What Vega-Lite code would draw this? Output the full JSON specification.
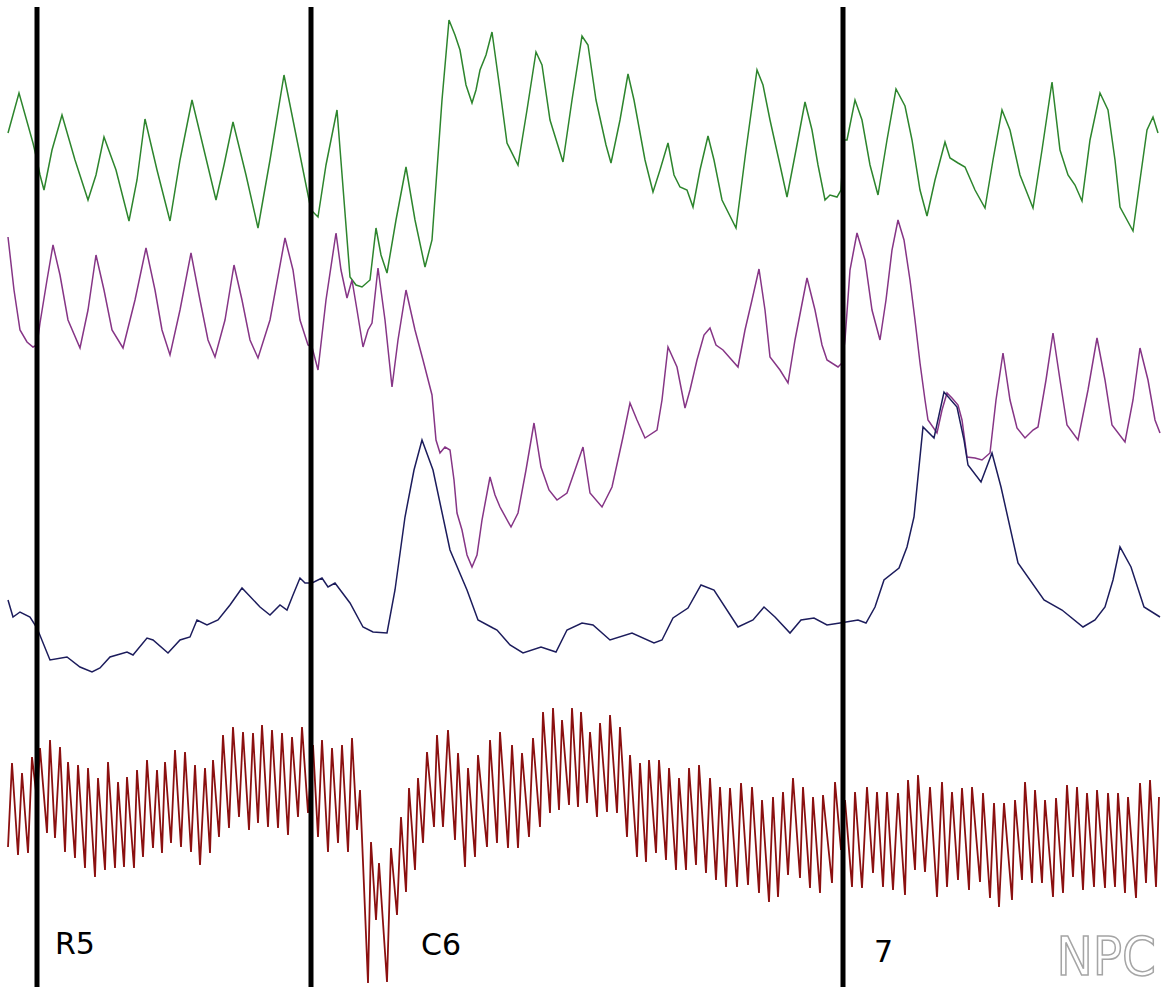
{
"$schema": "https://vega.github.io/schema/vega-lite/v6.json",
"width": 1161, "height": 987,
"autosize": "none",
"padding": 0,
"background": "white",
"config": {"view": {"stroke": null}},
"datasets": {
"green": [
{"t":8,"v":133},{"t":19,"v":93},{"t":33,"v":143},{"t":37,"v":160},{"t":40,"v":175},{"t":44,"v":190},{"t":52,"v":150},{"t":62,"v":115},{"t":75,"v":160},{"t":88,"v":200},{"t":96,"v":175},{"t":104,"v":137},{"t":116,"v":170},{"t":129,"v":221},{"t":137,"v":180},{"t":145,"v":119},{"t":157,"v":170},{"t":170,"v":221},{"t":180,"v":160},{"t":192,"v":100},{"t":204,"v":150},{"t":216,"v":200},{"t":224,"v":165},{"t":233,"v":122},{"t":246,"v":175},{"t":258,"v":228},{"t":270,"v":160},{"t":284,"v":75},{"t":297,"v":140},{"t":311,"v":210},{"t":318,"v":217},{"t":326,"v":165},{"t":337,"v":110},{"t":344,"v":200},{"t":350,"v":277},{"t":356,"v":285},{"t":362,"v":287},{"t":370,"v":280},{"t":376,"v":228},{"t":381,"v":255},{"t":387,"v":273},{"t":396,"v":220},{"t":406,"v":167},{"t":415,"v":220},{"t":425,"v":267},{"t":432,"v":240},{"t":437,"v":170},{"t":442,"v":100},{"t":449,"v":20},{"t":455,"v":35},{"t":460,"v":50},{"t":466,"v":85},{"t":472,"v":103},{"t":476,"v":90},{"t":480,"v":70},{"t":486,"v":55},{"t":492,"v":32},{"t":500,"v":90},{"t":507,"v":143},{"t":518,"v":165},{"t":527,"v":110},{"t":536,"v":52},{"t":542,"v":65},{"t":550,"v":120},{"t":563,"v":162},{"t":572,"v":100},{"t":582,"v":36},{"t":588,"v":45},{"t":596,"v":100},{"t":606,"v":145},{"t":611,"v":163},{"t":620,"v":120},{"t":628,"v":74},{"t":634,"v":100},{"t":645,"v":160},{"t":653,"v":192},{"t":660,"v":170},{"t":668,"v":143},{"t":674,"v":175},{"t":680,"v":187},{"t":687,"v":190},{"t":693,"v":207},{"t":700,"v":170},{"t":708,"v":136},{"t":714,"v":160},{"t":722,"v":200},{"t":736,"v":228},{"t":746,"v":150},{"t":757,"v":70},{"t":763,"v":85},{"t":770,"v":120},{"t":780,"v":165},{"t":787,"v":197},{"t":796,"v":150},{"t":805,"v":102},{"t":812,"v":130},{"t":818,"v":165},{"t":825,"v":200},{"t":830,"v":195},{"t":837,"v":197},{"t":841,"v":190},{"t":844,"v":140},{"t":847,"v":140},{"t":855,"v":100},{"t":862,"v":120},{"t":870,"v":165},{"t":878,"v":195},{"t":887,"v":140},{"t":896,"v":89},{"t":905,"v":106},{"t":912,"v":140},{"t":920,"v":190},{"t":927,"v":216},{"t":935,"v":180},{"t":945,"v":142},{"t":950,"v":158},{"t":958,"v":163},{"t":965,"v":167},{"t":975,"v":190},{"t":985,"v":208},{"t":993,"v":160},{"t":1002,"v":110},{"t":1010,"v":130},{"t":1020,"v":175},{"t":1033,"v":208},{"t":1042,"v":150},{"t":1052,"v":82},{"t":1060,"v":150},{"t":1068,"v":175},{"t":1075,"v":185},{"t":1082,"v":201},{"t":1090,"v":140},{"t":1100,"v":93},{"t":1108,"v":110},{"t":1115,"v":160},{"t":1120,"v":207},{"t":1133,"v":231},{"t":1140,"v":180},{"t":1147,"v":130},{"t":1153,"v":117},{"t":1158,"v":133}
],
"purple": [
{"t":8,"v":237},{"t":14,"v":290},{"t":20,"v":330},{"t":27,"v":342},{"t":33,"v":347},{"t":37,"v":345},{"t":40,"v":323},{"t":47,"v":280},{"t":53,"v":245},{"t":60,"v":275},{"t":68,"v":320},{"t":80,"v":348},{"t":88,"v":310},{"t":96,"v":255},{"t":104,"v":290},{"t":112,"v":330},{"t":123,"v":348},{"t":135,"v":300},{"t":146,"v":248},{"t":155,"v":290},{"t":162,"v":330},{"t":170,"v":355},{"t":180,"v":310},{"t":191,"v":253},{"t":200,"v":300},{"t":208,"v":340},{"t":215,"v":357},{"t":225,"v":320},{"t":234,"v":265},{"t":242,"v":300},{"t":250,"v":340},{"t":258,"v":358},{"t":270,"v":320},{"t":285,"v":238},{"t":293,"v":270},{"t":300,"v":320},{"t":308,"v":345},{"t":312,"v":347},{"t":318,"v":370},{"t":326,"v":300},{"t":336,"v":233},{"t":341,"v":270},{"t":347,"v":298},{"t":352,"v":280},{"t":357,"v":310},{"t":363,"v":347},{"t":368,"v":330},{"t":372,"v":323},{"t":378,"v":268},{"t":385,"v":320},{"t":392,"v":387},{"t":398,"v":340},{"t":406,"v":290},{"t":415,"v":330},{"t":423,"v":360},{"t":432,"v":395},{"t":436,"v":440},{"t":440,"v":453},{"t":445,"v":447},{"t":450,"v":450},{"t":454,"v":480},{"t":457,"v":513},{"t":462,"v":530},{"t":467,"v":555},{"t":472,"v":567},{"t":477,"v":555},{"t":482,"v":520},{"t":490,"v":477},{"t":495,"v":495},{"t":500,"v":507},{"t":511,"v":527},{"t":518,"v":513},{"t":526,"v":470},{"t":534,"v":423},{"t":541,"v":467},{"t":549,"v":490},{"t":557,"v":500},{"t":567,"v":493},{"t":575,"v":470},{"t":583,"v":447},{"t":590,"v":493},{"t":602,"v":507},{"t":612,"v":487},{"t":623,"v":437},{"t":630,"v":403},{"t":637,"v":420},{"t":645,"v":438},{"t":657,"v":430},{"t":662,"v":400},{"t":668,"v":347},{"t":677,"v":367},{"t":685,"v":408},{"t":690,"v":390},{"t":697,"v":360},{"t":704,"v":335},{"t":710,"v":328},{"t":716,"v":345},{"t":723,"v":350},{"t":730,"v":358},{"t":738,"v":367},{"t":745,"v":330},{"t":752,"v":300},{"t":759,"v":269},{"t":765,"v":310},{"t":770,"v":357},{"t":780,"v":370},{"t":788,"v":383},{"t":795,"v":340},{"t":807,"v":278},{"t":815,"v":310},{"t":822,"v":345},{"t":827,"v":360},{"t":838,"v":367},{"t":842,"v":363},{"t":845,"v":340},{"t":850,"v":270},{"t":857,"v":233},{"t":865,"v":260},{"t":872,"v":310},{"t":880,"v":340},{"t":886,"v":300},{"t":892,"v":250},{"t":898,"v":220},{"t":904,"v":240},{"t":910,"v":280},{"t":915,"v":320},{"t":920,"v":363},{"t":925,"v":400},{"t":928,"v":420},{"t":937,"v":433},{"t":942,"v":410},{"t":947,"v":393},{"t":952,"v":398},{"t":958,"v":405},{"t":962,"v":420},{"t":967,"v":457},{"t":975,"v":458},{"t":982,"v":460},{"t":990,"v":453},{"t":996,"v":400},{"t":1003,"v":353},{"t":1010,"v":400},{"t":1017,"v":428},{"t":1025,"v":438},{"t":1033,"v":430},{"t":1038,"v":427},{"t":1046,"v":380},{"t":1053,"v":333},{"t":1060,"v":380},{"t":1067,"v":425},{"t":1078,"v":440},{"t":1088,"v":390},{"t":1097,"v":338},{"t":1105,"v":380},{"t":1112,"v":425},{"t":1125,"v":442},{"t":1133,"v":400},{"t":1140,"v":348},{"t":1148,"v":380},{"t":1155,"v":420},{"t":1160,"v":433}
],
"navy": [
{"t":8,"v":600},{"t":13,"v":617},{"t":20,"v":612},{"t":30,"v":617},{"t":37,"v":628},{"t":50,"v":660},{"t":67,"v":657},{"t":80,"v":667},{"t":92,"v":672},{"t":100,"v":668},{"t":110,"v":657},{"t":127,"v":652},{"t":133,"v":655},{"t":147,"v":638},{"t":153,"v":640},{"t":168,"v":653},{"t":180,"v":640},{"t":190,"v":637},{"t":197,"v":620},{"t":207,"v":625},{"t":218,"v":620},{"t":230,"v":605},{"t":242,"v":588},{"t":260,"v":607},{"t":270,"v":615},{"t":280,"v":605},{"t":287,"v":610},{"t":293,"v":595},{"t":300,"v":578},{"t":305,"v":583},{"t":312,"v":583},{"t":322,"v":578},{"t":328,"v":587},{"t":335,"v":583},{"t":350,"v":603},{"t":363,"v":627},{"t":373,"v":632},{"t":387,"v":633},{"t":395,"v":590},{"t":405,"v":517},{"t":414,"v":470},{"t":422,"v":440},{"t":433,"v":470},{"t":450,"v":550},{"t":467,"v":590},{"t":478,"v":620},{"t":493,"v":628},{"t":497,"v":630},{"t":510,"v":645},{"t":523,"v":653},{"t":541,"v":647},{"t":556,"v":652},{"t":567,"v":630},{"t":582,"v":623},{"t":593,"v":625},{"t":610,"v":640},{"t":632,"v":633},{"t":654,"v":643},{"t":662,"v":640},{"t":673,"v":618},{"t":688,"v":608},{"t":701,"v":585},{"t":714,"v":590},{"t":738,"v":627},{"t":753,"v":620},{"t":764,"v":607},{"t":775,"v":617},{"t":790,"v":633},{"t":801,"v":620},{"t":814,"v":618},{"t":827,"v":625},{"t":840,"v":623},{"t":858,"v":620},{"t":866,"v":623},{"t":875,"v":607},{"t":884,"v":580},{"t":899,"v":568},{"t":907,"v":547},{"t":914,"v":517},{"t":923,"v":427},{"t":934,"v":438},{"t":944,"v":392},{"t":957,"v":407},{"t":964,"v":440},{"t":968,"v":465},{"t":981,"v":482},{"t":992,"v":453},{"t":1001,"v":487},{"t":1018,"v":563},{"t":1044,"v":600},{"t":1062,"v":610},{"t":1083,"v":627},{"t":1095,"v":620},{"t":1105,"v":607},{"t":1113,"v":580},{"t":1120,"v":547},{"t":1131,"v":567},{"t":1144,"v":607},{"t":1160,"v":617}
],
"red": [
{"t":8,"v":847},{"t":12,"v":763},{"t":18,"v":855},{"t":22,"v":773},{"t":28,"v":853},{"t":32,"v":757},{"t":37,"v":800},{"t":40,"v":748},{"t":47,"v":833},{"t":50,"v":740},{"t":55,"v":838},{"t":60,"v":747},{"t":65,"v":852},{"t":68,"v":762},{"t":75,"v":858},{"t":78,"v":765},{"t":85,"v":868},{"t":88,"v":768},{"t":95,"v":877},{"t":98,"v":778},{"t":105,"v":870},{"t":108,"v":762},{"t":115,"v":868},{"t":118,"v":782},{"t":124,"v":867},{"t":127,"v":777},{"t":134,"v":868},{"t":137,"v":770},{"t":143,"v":857},{"t":147,"v":760},{"t":153,"v":848},{"t":157,"v":770},{"t":162,"v":853},{"t":165,"v":762},{"t":171,"v":843},{"t":175,"v":750},{"t":181,"v":847},{"t":185,"v":752},{"t":191,"v":852},{"t":195,"v":765},{"t":200,"v":865},{"t":205,"v":768},{"t":210,"v":853},{"t":213,"v":760},{"t":219,"v":837},{"t":223,"v":735},{"t":229,"v":828},{"t":233,"v":727},{"t":239,"v":817},{"t":243,"v":732},{"t":249,"v":830},{"t":253,"v":733},{"t":258,"v":823},{"t":262,"v":725},{"t":268,"v":827},{"t":272,"v":730},{"t":278,"v":828},{"t":282,"v":733},{"t":288,"v":835},{"t":292,"v":737},{"t":298,"v":817},{"t":302,"v":727},{"t":308,"v":813},{"t":313,"v":745},{"t":318,"v":837},{"t":322,"v":740},{"t":328,"v":852},{"t":332,"v":748},{"t":338,"v":843},{"t":342,"v":745},{"t":348,"v":852},{"t":352,"v":738},{"t":357,"v":830},{"t":360,"v":790},{"t":368,"v":983},{"t":371,"v":842},{"t":376,"v":920},{"t":379,"v":863},{"t":387,"v":982},{"t":391,"v":848},{"t":397,"v":915},{"t":401,"v":817},{"t":406,"v":892},{"t":409,"v":788},{"t":415,"v":870},{"t":418,"v":778},{"t":423,"v":843},{"t":427,"v":752},{"t":434,"v":827},{"t":437,"v":735},{"t":443,"v":827},{"t":448,"v":730},{"t":455,"v":840},{"t":458,"v":753},{"t":465,"v":867},{"t":468,"v":768},{"t":475,"v":857},{"t":478,"v":755},{"t":487,"v":847},{"t":490,"v":740},{"t":497,"v":843},{"t":500,"v":732},{"t":508,"v":848},{"t":512,"v":745},{"t":518,"v":848},{"t":522,"v":753},{"t":529,"v":837},{"t":533,"v":738},{"t":540,"v":827},{"t":543,"v":712},{"t":550,"v":813},{"t":553,"v":708},{"t":559,"v":810},{"t":562,"v":720},{"t":569,"v":805},{"t":572,"v":708},{"t":578,"v":807},{"t":581,"v":712},{"t":587,"v":803},{"t":590,"v":732},{"t":597,"v":817},{"t":600,"v":723},{"t":607,"v":812},{"t":610,"v":715},{"t":617,"v":813},{"t":620,"v":727},{"t":627,"v":837},{"t":630,"v":755},{"t":637,"v":857},{"t":640,"v":763},{"t":646,"v":862},{"t":649,"v":760},{"t":656,"v":853},{"t":659,"v":760},{"t":666,"v":860},{"t":669,"v":768},{"t":676,"v":870},{"t":679,"v":778},{"t":686,"v":870},{"t":689,"v":768},{"t":696,"v":865},{"t":699,"v":765},{"t":706,"v":873},{"t":710,"v":778},{"t":716,"v":880},{"t":720,"v":787},{"t":726,"v":887},{"t":730,"v":788},{"t":737,"v":887},{"t":741,"v":783},{"t":748,"v":885},{"t":752,"v":787},{"t":759,"v":893},{"t":762,"v":800},{"t":769,"v":902},{"t":773,"v":797},{"t":778,"v":897},{"t":783,"v":792},{"t":788,"v":875},{"t":793,"v":778},{"t":800,"v":878},{"t":803,"v":787},{"t":810,"v":888},{"t":813,"v":797},{"t":820,"v":893},{"t":823,"v":795},{"t":832,"v":883},{"t":835,"v":782},{"t":841,"v":850},{"t":845,"v":800},{"t":852,"v":887},{"t":855,"v":792},{"t":862,"v":888},{"t":867,"v":787},{"t":873,"v":873},{"t":877,"v":792},{"t":883,"v":887},{"t":887,"v":792},{"t":893,"v":890},{"t":898,"v":793},{"t":905,"v":895},{"t":908,"v":780},{"t":915,"v":870},{"t":918,"v":775},{"t":925,"v":872},{"t":930,"v":787},{"t":937,"v":897},{"t":942,"v":782},{"t":947,"v":887},{"t":952,"v":792},{"t":958,"v":880},{"t":962,"v":788},{"t":969,"v":890},{"t":972,"v":787},{"t":980,"v":882},{"t":983,"v":793},{"t":990,"v":898},{"t":994,"v":803},{"t":999,"v":907},{"t":1004,"v":803},{"t":1012,"v":900},{"t":1015,"v":800},{"t":1022,"v":880},{"t":1025,"v":782},{"t":1032,"v":883},{"t":1035,"v":790},{"t":1042,"v":883},{"t":1045,"v":800},{"t":1053,"v":897},{"t":1056,"v":798},{"t":1063,"v":893},{"t":1067,"v":785},{"t":1073,"v":877},{"t":1077,"v":787},{"t":1083,"v":890},{"t":1087,"v":793},{"t":1094,"v":887},{"t":1097,"v":790},{"t":1105,"v":888},{"t":1108,"v":793},{"t":1115,"v":887},{"t":1118,"v":793},{"t":1125,"v":893},{"t":1128,"v":797},{"t":1136,"v":898},{"t":1140,"v":783},{"t":1146,"v":883},{"t":1150,"v":780},{"t":1156,"v":887},{"t":1159,"v":797}
],
"markers": [{"t":37},{"t":311},{"t":843}],
"labels": [{"label":"R5","t":55,"v":954},{"label":"C6","t":421,"v":955},{"label":"7","t":874,"v":962}],
"logo": [{"label":"NPC","t":1156,"v":986}]
},
"layer": [
{"data":{"name":"green"},"mark":{"type":"line","color":"#2d852d","strokeWidth":1.5},
 "encoding":{
  "x":{"field":"t","type":"quantitative","scale":{"domain":[0,1161],"nice":false,"zero":false},"axis":null},
  "y":{"field":"v","type":"quantitative","scale":{"domain":[0,987],"nice":false,"zero":false,"reverse":true},"axis":null}}},
{"data":{"name":"purple"},"mark":{"type":"line","color":"#863586","strokeWidth":1.5},
 "encoding":{"x":{"field":"t","type":"quantitative"},"y":{"field":"v","type":"quantitative"}}},
{"data":{"name":"navy"},"mark":{"type":"line","color":"#1c1c5c","strokeWidth":1.5},
 "encoding":{"x":{"field":"t","type":"quantitative"},"y":{"field":"v","type":"quantitative"}}},
{"data":{"name":"red"},"mark":{"type":"line","color":"#8b1010","strokeWidth":1.8},
 "encoding":{"x":{"field":"t","type":"quantitative"},"y":{"field":"v","type":"quantitative"}}},
{"data":{"name":"markers"},"mark":{"type":"rule","color":"black","strokeWidth":5},
 "encoding":{"x":{"field":"t","type":"quantitative"},"y":{"datum":7,"type":"quantitative"},"y2":{"datum":987}}},
{"data":{"name":"labels"},"mark":{"type":"text","font":"DejaVu Sans","fontSize":30,"color":"black","align":"left","baseline":"alphabetic"},
 "encoding":{"x":{"field":"t","type":"quantitative"},"y":{"field":"v","type":"quantitative"},"text":{"field":"label"}}},
{"data":{"name":"logo"},"mark":{"type":"text","font":"DejaVu Sans Condensed, Liberation Sans, sans-serif","fontSize":54,"fill":"white","stroke":"#a5a5a5","strokeWidth":1.5,"align":"right","baseline":"bottom"},
 "encoding":{"x":{"field":"t","type":"quantitative"},"y":{"field":"v","type":"quantitative"},"text":{"field":"label"}}}
]
}
